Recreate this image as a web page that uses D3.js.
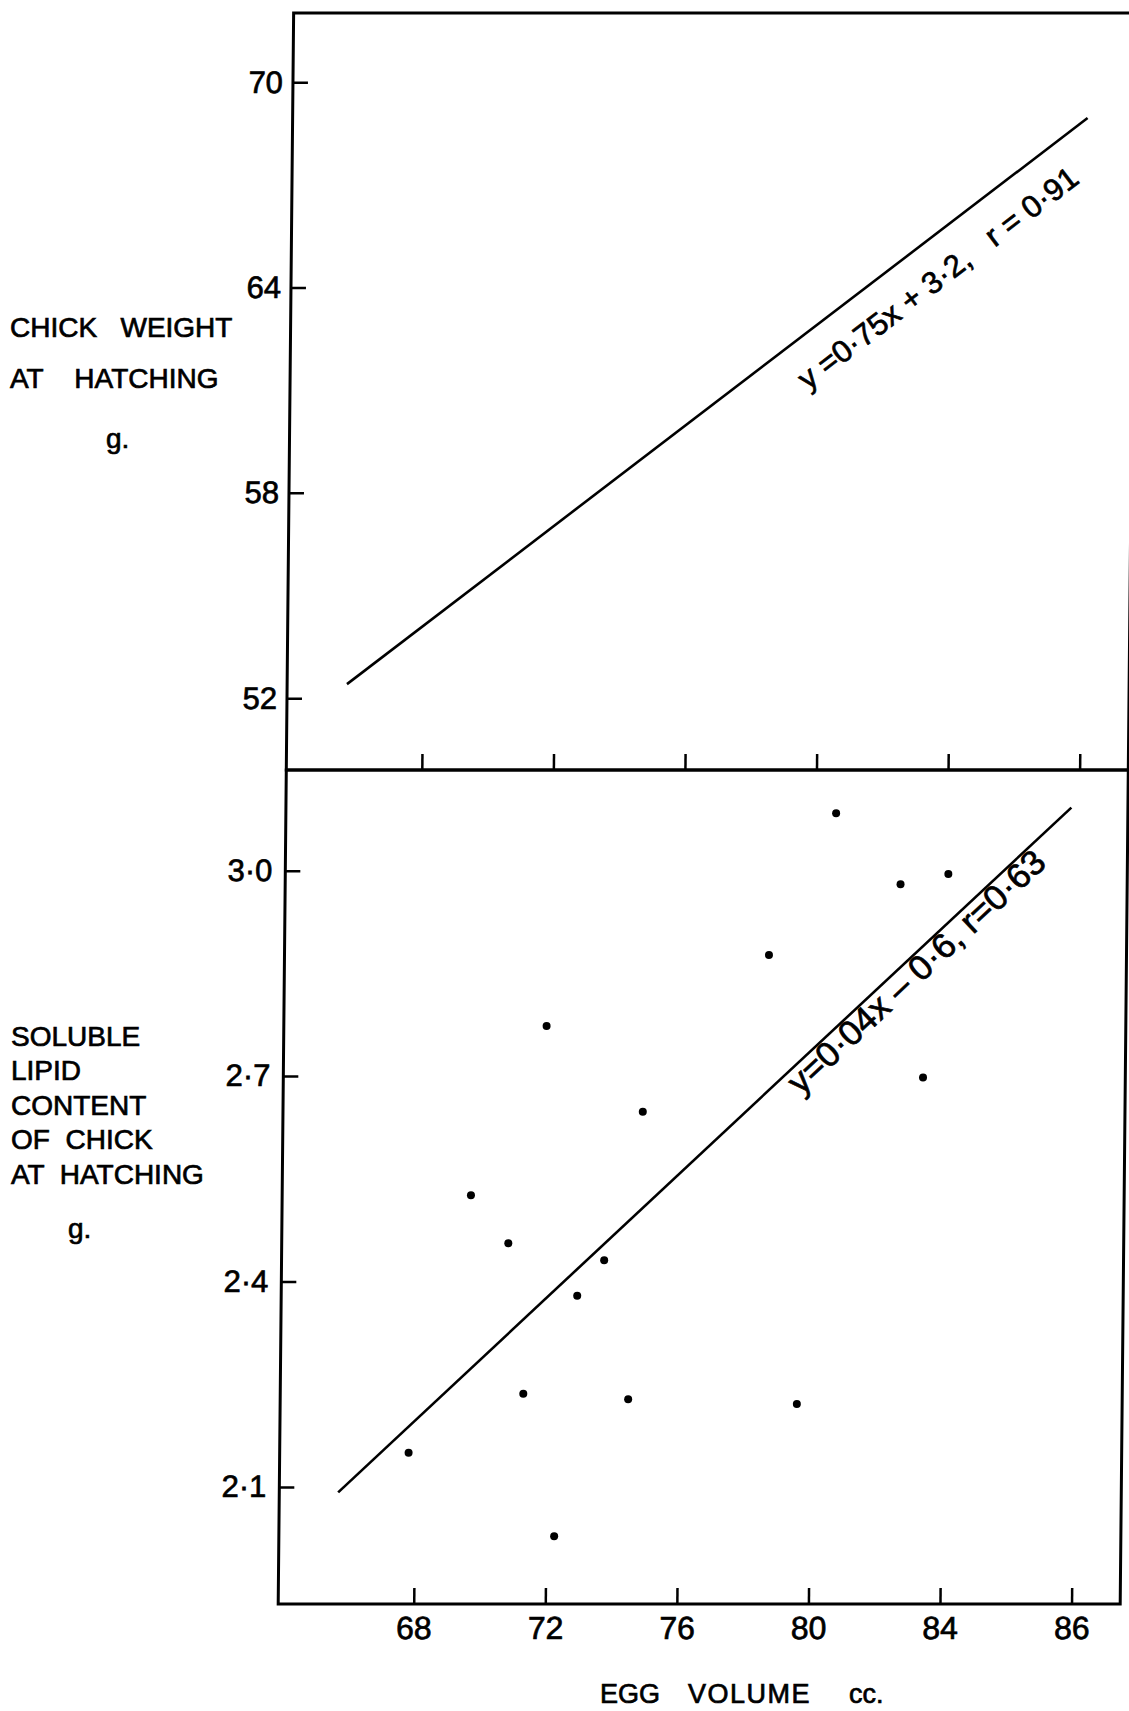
<!DOCTYPE html>
<html>
<head>
<meta charset="utf-8">
<script src="https://cdn.jsdelivr.net/npm/d3@7"></script>
<style>
  body { margin: 0; background: #fff; }
  svg { display: block; font-family: "Liberation Sans", Arial, sans-serif; }
  text { fill: #000; stroke: #000; stroke-width: 0.7px; }
  .pre { white-space: pre; }
</style>
</head>
<body>
<svg id="chart" width="1129" height="1711"></svg>
<script>
// egg volume (cc) against soluble lipid content of the chick at hatching (g)
const eggVolume = [67.80, 69.62, 70.77, 71.27, 71.87, 72.25, 72.88, 73.69, 74.46, 74.82, 78.61, 79.59, 80.61, 82.59, 83.33, 84.04];
const lipidContent = [2.150, 2.526, 2.456, 2.236, 2.773, 2.028, 2.379, 2.431, 2.228, 2.648, 2.877, 2.221, 3.084, 2.980, 2.698, 2.995];

// end points of the two fitted lines
const weightFitX = [65.7, 88.05];
const weightFitY = [52.41, 68.95];
const lipidFitX = [65.67, 87.76];
const lipidFitY = [2.092, 3.092];

const xTicks = [68, 72, 76, 80, 84, 88];
const xTickLabels = ["68", "72", "76", "80", "84", "86"]; // last tick is printed "86" in the original
const weightTicks = [52, 58, 64, 70];
const weightTickLabels = ["52", "58", "64", "70"];
const lipidTicks = [2.1, 2.4, 2.7, 3.0];
const lipidTickLabels = ["2·1", "2·4", "2·7", "3·0"];

const weightEquation = "y =0·75x + 3·2,   r = 0·91";
const lipidEquation = "y=0·04x – 0·6, r=0·63";

const svg = d3.select("#chart");

// the scan leans a little, so the plot group gets a slight skew
const plot = svg.append("g")
    .attr("transform", "translate(0,800) skewX(-0.556) translate(0,-800)");

const x = d3.scaleLinear().domain([63.88, 89.48]).range([286, 1128]);
const yTop = d3.scaleLinear().domain([49.9, 72.02]).range([770, 13]);
const yBot = d3.scaleLinear().domain([1.929, 3.147]).range([1604, 770]);

//frames of the two panels
[[13, 770], [770, 1604]].forEach(([y0, y1]) => {
    plot.append("rect")
        .attr("x", x.range()[0])
        .attr("y", y0)
        .attr("width", x.range()[1] - x.range()[0])
        .attr("height", y1 - y0)
        .attr("fill", "none")
        .attr("stroke", "#000")
        .attr("stroke-width", 3);
});

function styleAxis(g, size) {
    g.select(".domain").remove();
    g.selectAll(".tick line").attr("stroke", "#000").attr("stroke-width", 2.5);
    g.selectAll(".tick text")
        .attr("font-size", size)
        .attr("font-family", "Liberation Sans, Arial, sans-serif");
}

//y axes, ticks point into the panel
plot.append("g")
    .attr("transform", `translate(${x.range()[0]},0)`)
    .call(d3.axisLeft(yTop)
        .tickValues(weightTicks)
        .tickFormat((d, i) => weightTickLabels[i])
        .tickSizeInner(-15).tickSizeOuter(0).tickPadding(10))
    .call(g => styleAxis(g, 31));

plot.append("g")
    .attr("transform", `translate(${x.range()[0]},0)`)
    .call(d3.axisLeft(yBot)
        .tickValues(lipidTicks)
        .tickFormat((d, i) => lipidTickLabels[i])
        .tickSizeInner(-15).tickSizeOuter(0).tickPadding(13))
    .call(g => styleAxis(g, 31));

//x ticks of the upper panel (no labels)
plot.append("g")
    .attr("transform", "translate(0,770)")
    .call(d3.axisBottom(x)
        .tickValues(xTicks)
        .tickFormat("")
        .tickSizeInner(-16).tickSizeOuter(0))
    .call(g => styleAxis(g, 31));

//x axis of the lower panel
plot.append("g")
    .attr("transform", "translate(0,1604)")
    .call(d3.axisBottom(x)
        .tickValues(xTicks)
        .tickFormat((d, i) => xTickLabels[i])
        .tickSizeInner(-16).tickSizeOuter(0).tickPadding(12))
    .call(g => styleAxis(g, 32));

//fitted lines
const fits = [
    {xs: weightFitX, ys: weightFitY, s: yTop, text: weightEquation, f: 0.584, d: 47, size: 31},
    {xs: lipidFitX, ys: lipidFitY, s: yBot, text: lipidEquation, f: 0.607, d: 26, size: 35}
];

fits.forEach(fit => {
    const pts = fit.xs.map((v, i) => [x(v), fit.s(fit.ys[i])]);
    plot.append("path")
        .attr("d", d3.line()(pts))
        .attr("fill", "none")
        .attr("stroke", "#000")
        .attr("stroke-width", 2.6);

    //equation written along the line, under it
    const ang = Math.atan2(pts[1][1] - pts[0][1], pts[1][0] - pts[0][0]);
    const nx = -Math.sin(ang), ny = Math.cos(ang);
    const px = pts[0][0] + fit.f * (pts[1][0] - pts[0][0]) + fit.d * nx;
    const py = pts[0][1] + fit.f * (pts[1][1] - pts[0][1]) + fit.d * ny;
    plot.append("text")
        .attr("class", "pre")
        .attr("transform", `translate(${px},${py}) rotate(${ang * 180 / Math.PI})`)
        .attr("font-size", fit.size)
        .text(fit.text);
});

//data points
plot.append("g")
    .selectAll("circle")
    .data(eggVolume.map((v, i) => ({v: v, l: lipidContent[i]})))
    .join("circle")
    .attr("cx", d => x(d.v))
    .attr("cy", d => yBot(d.l))
    .attr("r", 4)
    .attr("fill", "#000");

//axis titles
const titles = svg.append("g").attr("font-size", 28);

const weightTitle = ["CHICK   WEIGHT", "AT    HATCHING"];
titles.selectAll(".wt")
    .data(weightTitle).join("text")
    .attr("class", "wt pre")
    .attr("x", 10)
    .attr("y", (d, i) => 337 + i * 51)
    .text(d => d);
titles.append("text").attr("x", 106).attr("y", 448).text("g.");

const lipidTitle = ["SOLUBLE", "LIPID", "CONTENT", "OF  CHICK", "AT  HATCHING"];
titles.selectAll(".lt")
    .data(lipidTitle).join("text")
    .attr("class", "lt pre")
    .attr("x", 11)
    .attr("y", (d, i) => 1046 + i * 34.4)
    .text(d => d);
titles.append("text").attr("x", 68).attr("y", 1238).text("g.");

const xTitle = svg.append("text").attr("y", 1703).attr("font-size", 27);
xTitle.append("tspan").attr("x", 600).text("EGG");
xTitle.append("tspan").attr("x", 688).attr("letter-spacing", 1.5).text("VOLUME");
xTitle.append("tspan").attr("x", 849).attr("letter-spacing", 0).text("cc.");
</script>
</body>
</html>
